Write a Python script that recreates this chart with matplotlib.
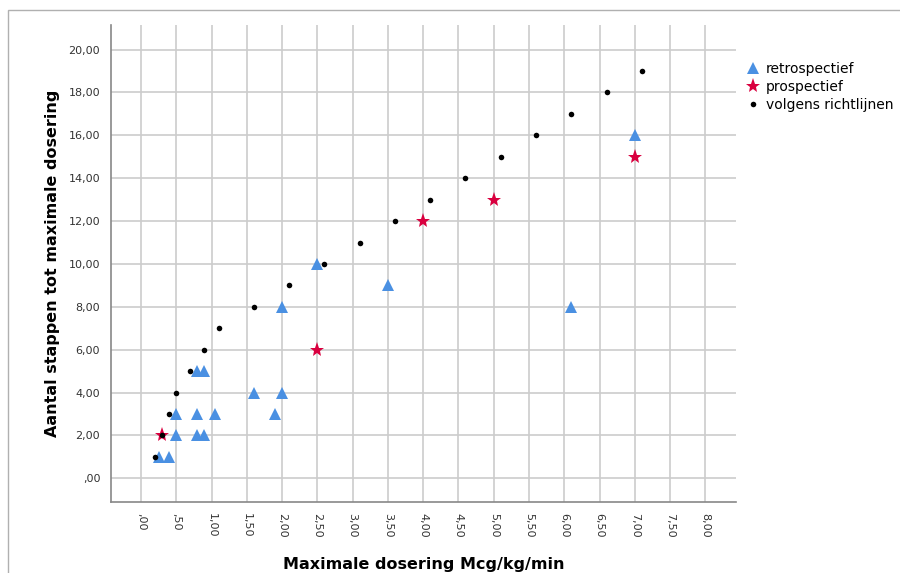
import matplotlib
matplotlib.use("Agg")
import matplotlib.pyplot as plt
from matplotlib.patches import Rectangle

plt.rcParams["font.family"] = ["DejaVu Sans"]

# retrospectief
retro_x = [0.25, 0.4, 0.5, 0.8, 0.9, 0.5, 0.8, 1.05, 1.9, 1.6, 2.0, 0.8, 0.9, 2.0, 2.5, 3.5, 6.1, 7.0]
retro_y = [1, 1, 2, 2, 2, 3, 3, 3, 3, 4, 4, 5, 5, 8, 10, 9, 8, 16]
# prospectief
pro_x = [0.3, 2.5, 4.0, 5.0, 7.0]
pro_y = [2, 6, 12, 13, 15]
# volgens richtlijnen
guide_x = [0.2, 0.3, 0.4, 0.5, 0.7, 0.9, 1.1, 1.6, 2.1, 2.6, 3.1, 3.6, 4.1, 4.6, 5.1, 5.6, 6.1, 6.6, 7.1]
guide_y = [1, 2, 3, 4, 5, 6, 7, 8, 9, 10, 11, 12, 13, 14, 15, 16, 17, 18, 19]

x_ticks = [0, 0.5, 1, 1.5, 2, 2.5, 3, 3.5, 4, 4.5, 5, 5.5, 6, 6.5, 7, 7.5, 8]
x_labels = [",00", ",50", "1,00", "1,50", "2,00", "2,50", "3,00", "3,50", "4,00",
            "4,50", "5,00", "5,50", "6,00", "6,50", "7,00", "7,50", "8,00"]
y_ticks = [0, 2, 4, 6, 8, 10, 12, 14, 16, 18, 20]
y_labels = [",00", "2,00", "4,00", "6,00", "8,00", "10,00", "12,00", "14,00",
            "16,00", "18,00", "20,00"]

fig = plt.figure(figsize=(9, 5.73), dpi=100)
ax = fig.add_axes([0.1237, 0.1234, 0.8174 - 0.1237, 0.9564 - 0.1234])

# outer frame
fig.patches.append(Rectangle((8 / 900, -0.1), 1.2, 1 - 10 / 573 + 0.1, transform=fig.transFigure,
                             fill=False, edgecolor="#b0b0b0", linewidth=1.0))

ax.plot(retro_x, retro_y, linestyle="none", marker="^", ms=9, color="#4a90e2",
        markeredgewidth=0, label="retrospectief", zorder=3)
ax.plot(pro_x, pro_y, linestyle="none", marker="*", ms=11, color="#d9003f",
        markeredgewidth=0, label="prospectief", zorder=4)
ax.plot(guide_x, guide_y, linestyle="none", marker="o", ms=4, color="black",
        markeredgewidth=0, label="volgens richtlijnen", zorder=5)

ax.set_xlim(-0.42, 8.43)
ax.set_ylim(-1.12, 21.15)
ax.set_xticks(x_ticks)
ax.set_xticklabels(x_labels, rotation=-90)
ax.set_yticks(y_ticks)
ax.set_yticklabels(y_labels)
ax.tick_params(length=0, labelsize=8, colors="#333333", pad=8)
ax.grid(True, color="#cccccc", linewidth=1.2)
ax.set_axisbelow(True)
for s in ["top", "right"]:
    ax.spines[s].set_visible(False)
for s in ["left", "bottom"]:
    ax.spines[s].set_color("#888888")
    ax.spines[s].set_linewidth(1.2)

ax.set_xlabel("Maximale dosering Mcg/kg/min", fontsize=11.5, fontweight="bold", labelpad=14)
ax.set_ylabel("Aantal stappen tot maximale dosering", fontsize=11.5, fontweight="bold", labelpad=6)

ax.legend(loc="upper left", bbox_to_anchor=(1.01, 0.935), frameon=False, fontsize=10,
          handlelength=0.8, handletextpad=0.5, labelspacing=0.3, borderaxespad=0)

fig.savefig("out.png", dpi=100)
